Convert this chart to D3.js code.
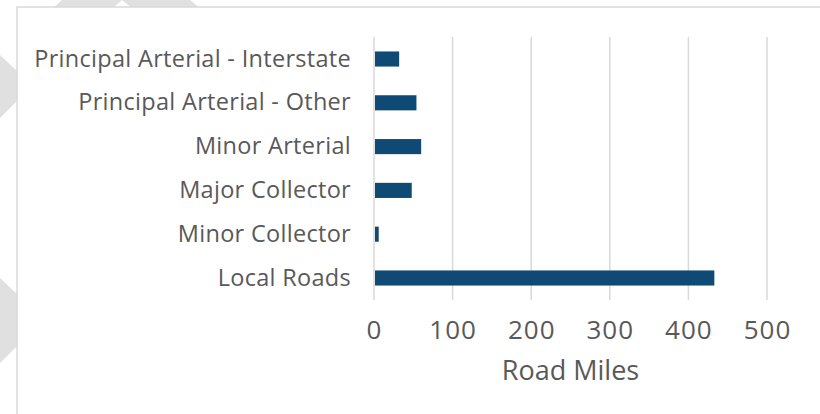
<!DOCTYPE html>
<html>
<head>
<meta charset="utf-8">
<script src="https://cdn.jsdelivr.net/npm/d3@7"></script>
<style>
  body { margin: 0; background: #fff; }
  svg { display: block; }
</style>
</head>
<body>
<div id="canvas"></div>
<script>
"use strict"

/*** DATA ***/
let categories = ["Principal Arterial - Interstate", "Principal Arterial - Other", "Minor Arterial",
                  "Major Collector", "Minor Collector", "Local Roads"]
let roadMiles = [32, 54, 60, 48, 6, 433]
let tickValues = [0, 100, 200, 300, 400, 500]

/*** CANVAS SETUP ***/
let svgWidth = 820
let svgHeight = 414

let margin = {
    top: 37,
    right: 53,
    bottom: 114,
    left: 374
}

let font = "'Open Sans', sans-serif"

let svg = d3.select("#canvas")
    .append("svg")
    .attr("width", svgWidth)
    .attr("height", svgHeight)

/* background chevrons behind the chart frame */
let deco = [
    [[62, 0], [122, 0], [113, 8], [53, 8]],
    [[122, 0], [190, 0], [200, 8], [132, 8]],
    [[0, 55], [18, 72], [18, 100], [0, 118]],
    [[0, 278], [18, 295], [18, 345], [0, 363]]
]
svg.selectAll("polygon.deco")
    .data(deco)
    .join("polygon")
    .attr("class", "deco")
    .attr("points", d => d.map(p => p.join(",")).join(" "))
    .attr("fill", "#e0e0e0")

/* chart frame (runs off the right and bottom edge) */
svg.append("rect")
    .attr("x", 17)
    .attr("y", 7)
    .attr("width", svgWidth + 20)
    .attr("height", svgHeight + 20)
    .attr("fill", "#fff")
    .attr("stroke", "#d9d9d9")
    .attr("stroke-width", 1.5)

/*** SCALES ***/
let xScale = d3.scaleLinear()
    .domain([0, 500])
    .range([margin.left, svgWidth - margin.right])

let yScale = d3.scaleBand()
    .domain(categories)
    .range([margin.top, svgHeight - margin.bottom])
    .paddingInner(0.655)
    .paddingOuter(0.33)

/*** GRIDLINES ***/
svg.append("g")
    .selectAll("line")
    .data(tickValues)
    .join("line")
    .attr("x1", d => xScale(d))
    .attr("x2", d => xScale(d))
    .attr("y1", margin.top)
    .attr("y2", svgHeight - margin.bottom)
    .attr("stroke", "#d9d9d9")
    .attr("stroke-width", 1.5)

/*** BARS ***/
svg.append("g")
    .selectAll("rect")
    .data(roadMiles)
    .join("rect")
    .attr("x", xScale(0) + 1)
    .attr("y", (d, i) => yScale(categories[i]))
    .attr("width", d => xScale(d) - xScale(0) - 1)
    .attr("height", yScale.bandwidth())
    .attr("fill", "#0e4a73")

/*** AXES ***/
let yAxis = d3.axisLeft(yScale).tickSize(0).tickPadding(23)
svg.append("g")
    .attr("transform", `translate(${margin.left}, 0)`)
    .call(yAxis)
    .call(g => g.select(".domain").remove())
    .call(g => g.selectAll("text")
        .attr("fill", "#595959")
        .attr("font-family", font)
        .attr("font-size", "23.5px")
        .attr("letter-spacing", "0.3px"))

let xAxis = d3.axisBottom(xScale).tickValues(tickValues).tickSize(0).tickPadding(21)
svg.append("g")
    .attr("transform", `translate(0, ${svgHeight - margin.bottom})`)
    .call(xAxis)
    .call(g => g.select(".domain").remove())
    .call(g => g.selectAll("text")
        .attr("fill", "#595959")
        .attr("font-family", font)
        .attr("font-size", "26px")
        .attr("letter-spacing", "1px"))

/* axis title */
svg.append("text")
    .attr("x", (xScale(0) + xScale(500)) / 2)
    .attr("y", 380)
    .attr("text-anchor", "middle")
    .attr("fill", "#595959")
    .attr("font-family", font)
    .attr("font-size", "27px")
    .text("Road Miles")
</script>
</body>
</html>
